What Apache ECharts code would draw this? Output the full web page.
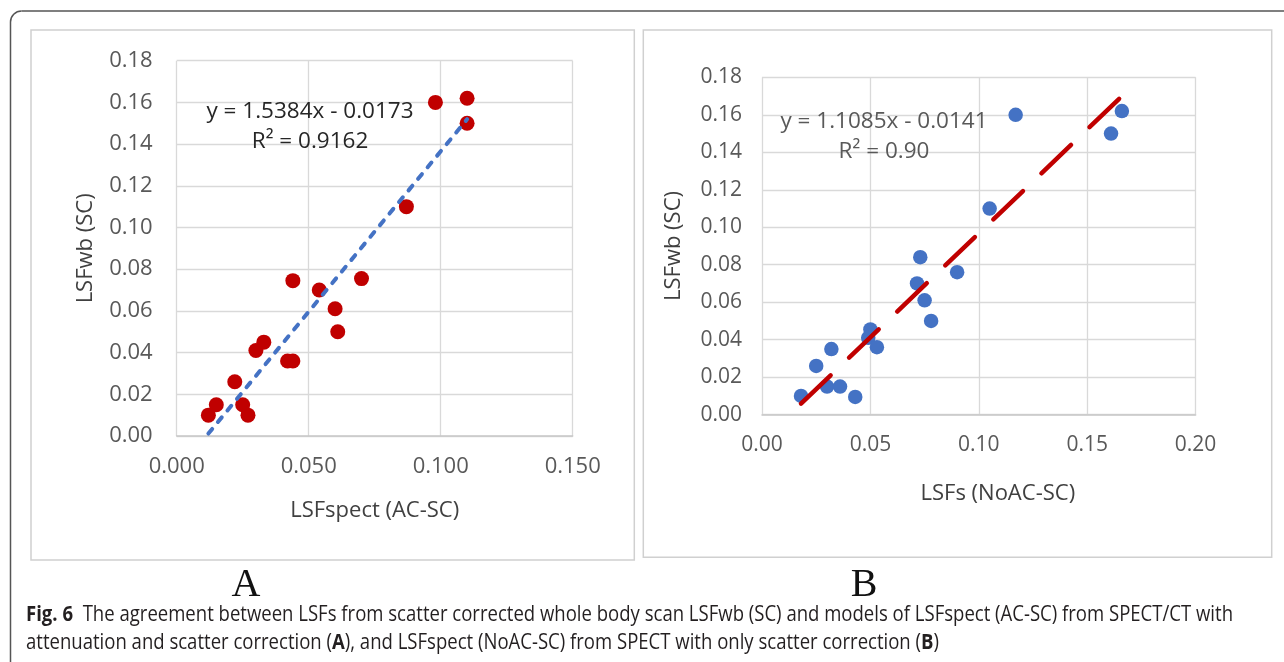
<!DOCTYPE html>
<html>
<head>
<meta charset="utf-8">
<script src="https://cdn.jsdelivr.net/npm/echarts@6/dist/echarts.min.js"></script>
<style>
html,body{margin:0;padding:0;background:#fff;}
#chart{width:1284px;height:662px;}
</style>
</head>
<body>
<div id="chart"></div>
<script>
// Panel A: LSFspect (AC-SC) vs LSFwb (SC)
const aX = [0.098, 0.110, 0.110, 0.087, 0.044, 0.054, 0.070, 0.060, 0.061, 0.033, 0.030, 0.042, 0.044, 0.022, 0.015, 0.012, 0.025, 0.027];
const aY = [0.160, 0.162, 0.150, 0.110, 0.0745, 0.070, 0.0755, 0.061, 0.050, 0.045, 0.041, 0.036, 0.036, 0.026, 0.015, 0.010, 0.015, 0.010];
const aSlope = 1.5384, aIntercept = -0.0173;
const aEquation = ['y = 1.5384x - 0.0173', 'R\u00B2 = 0.9162'];

// Panel B: LSFs (NoAC-SC) vs LSFwb (SC)
const bX = [0.117, 0.166, 0.161, 0.105, 0.073, 0.090, 0.0715, 0.075, 0.078, 0.050, 0.049, 0.053, 0.032, 0.025, 0.030, 0.036, 0.018, 0.043];
const bY = [0.160, 0.162, 0.150, 0.110, 0.084, 0.076, 0.070, 0.061, 0.050, 0.0455, 0.041, 0.036, 0.035, 0.026, 0.015, 0.015, 0.010, 0.0095];
const bSlope = 1.1085, bIntercept = -0.0141;
const bEquation = ['y = 1.1085x - 0.0141', 'R\u00B2 = 0.90'];

// Axis settings / labels
const aXTicks = ['0.000', '0.050', '0.100', '0.150'];
const bXTicks = ['0.00', '0.05', '0.10', '0.15', '0.20'];
const yTicks = ['0.00', '0.02', '0.04', '0.06', '0.08', '0.10', '0.12', '0.14', '0.16', '0.18'];
const aXName = 'LSFspect (AC-SC)';
const bXName = 'LSFs (NoAC-SC)';
const yName = 'LSFwb (SC)';
const panelLabels = ['A', 'B'];
const captionLine1 = [['b', 'Fig. 6'], ['n', '  The agreement between LSFs from scatter corrected whole body scan LSFwb (SC) and models of LSFspect (AC-SC) from SPECT/CT with']];
const captionLine2 = [['n', 'attenuation and scatter correction ('], ['b', 'A'], ['n', '), and LSFspect (NoAC-SC) from SPECT with only scatter correction ('], ['b', 'B'], ['n', ')']];

const FONT = "'Open Sans', 'Noto Sans', sans-serif";
const pairs = (xs, ys) => xs.map((x, i) => [x, ys[i]]);
const trend = (xs, m, c) => {
  const lo = Math.min(...xs), hi = Math.max(...xs);
  return [[lo, m * lo + c], [hi, m * hi + c]];
};

// caption measuring for horizontal fitting
const cv = document.createElement('canvas').getContext('2d');
const CAP_SIZE = 22;
function segWidth(segs) {
  let w = 0;
  segs.forEach(([k, t]) => {
    cv.font = (k === 'b' ? 'bold ' : '') + CAP_SIZE + "px 'Open Sans'";
    w += cv.measureText(t).width;
  });
  return w;
}
function richText(segs) {
  return segs.map(([k, t]) => '{' + k + '|' + t + '}').join('');
}
const capScale = 1207 / segWidth(captionLine1);

const gridLine = { show: true, lineStyle: { color: '#D9D9D9', width: 1.3 } };
function xAxisCfg(gridIndex, max, interval, ticks, name, gap, size, namePad) {
  return {
    type: 'value', gridIndex, min: 0, max, interval,
    name, nameLocation: 'middle', nameGap: gap,
    nameTextStyle: { fontFamily: FONT, fontSize: 22, color: '#404040', padding: namePad },
    axisLine: { show: true, lineStyle: { color: '#C8C8C8', width: 1.5 } },
    axisTick: { show: false },
    axisLabel: { fontFamily: FONT, fontSize: size, color: '#595959', margin: 20,
      formatter: (v) => ticks[Math.round(v / interval)] },
    splitLine: gridLine
  };
}
function yAxisCfg(gridIndex, gap, size, margin) {
  return {
    type: 'value', gridIndex, min: 0, max: 0.18, interval: 0.02,
    name: yName, nameLocation: 'middle', nameGap: gap,
    nameTextStyle: { fontFamily: FONT, fontSize: 22, color: '#404040' },
    axisLine: { show: false },
    axisTick: { show: false },
    axisLabel: { fontFamily: FONT, fontSize: size, color: '#595959', margin,
      formatter: (v) => yTicks[Math.round(v / 0.02)] },
    splitLine: gridLine
  };
}

const capRich = { b: { fontWeight: 'bold', fontSize: CAP_SIZE, fontFamily: 'Open Sans', color: '#231F20' },
                  n: { fontSize: CAP_SIZE, fontFamily: 'Open Sans', color: '#231F20' } };

const chart = echarts.init(document.getElementById('chart'), null, { renderer: 'canvas' });
const option = {
  backgroundColor: '#ffffff',
  animation: false,
  grid: [
    { left: 176.7, top: 60.7, width: 396, height: 375.3 },
    { left: 762, top: 77.3, width: 433.6, height: 337.4 }
  ],
  xAxis: [
    xAxisCfg(0, 0.15, 0.05, aXTicks, aXName, 64, 22, [0, 0, 0, 0]),
    xAxisCfg(1, 0.20, 0.05, bXTicks, bXName, 68, 21, [0, 0, 0, 38])
  ],
  yAxis: [
    yAxisCfg(0, 80, 22, 24),
    yAxisCfg(1, 77, 21, 20)
  ],
  series: [
    { type: 'scatter', xAxisIndex: 0, yAxisIndex: 0, data: pairs(aX, aY), symbolSize: 15,
      itemStyle: { color: '#C00000', opacity: 1 }, z: 2 },
    { type: 'line', xAxisIndex: 0, yAxisIndex: 0, data: trend(aX, aSlope, aIntercept), showSymbol: false, symbol: 'none',
      lineStyle: { color: '#4472C4', width: 4, type: [6, 9], cap: 'round' }, z: 3 },
    { type: 'scatter', xAxisIndex: 1, yAxisIndex: 1, data: pairs(bX, bY), symbolSize: 14.5,
      itemStyle: { color: '#4472C4', opacity: 1 }, z: 2 },
    { type: 'line', xAxisIndex: 1, yAxisIndex: 1, data: trend(bX, bSlope, bIntercept), showSymbol: false, symbol: 'none',
      lineStyle: { color: '#C00000', width: 4.5, type: [41, 25.6], cap: 'round' }, z: 3 }
  ],
  graphic: [
    // outer frame
    { type: 'line', z: 0, shape: { x1: 10.5, y1: 22, x2: 10.5, y2: 662 }, style: { stroke: '#555555', lineWidth: 1.5 } },
    { type: 'line', z: 0, shape: { x1: 21.5, y1: 11, x2: 1284, y2: 11 }, style: { stroke: '#555555', lineWidth: 1.5 } },
    { type: 'arc', z: 0, shape: { cx: 21.5, cy: 22, r: 11, startAngle: Math.PI, endAngle: Math.PI * 1.5, clockwise: true },
      style: { fill: null, stroke: '#555555', lineWidth: 1.5 } },
    // panel boxes
    { type: 'rect', z: 0, shape: { x: 31, y: 30, width: 603.3, height: 530 },
      style: { fill: null, stroke: '#D0D0D0', lineWidth: 1.5 } },
    { type: 'rect', z: 0, shape: { x: 643.3, y: 30, width: 628.4, height: 527.3 },
      style: { fill: null, stroke: '#D0D0D0', lineWidth: 1.5 } },
    // equations
    { type: 'text', z: 10, x: 310, y: 111.7, style: { text: aEquation[0], font: '22.5px ' + FONT, fill: '#262626', align: 'center', verticalAlign: 'middle' } },
    { type: 'text', z: 10, x: 310, y: 141.7, style: { text: aEquation[1], font: '22.5px ' + FONT, fill: '#262626', align: 'center', verticalAlign: 'middle' } },
    { type: 'text', z: 10, x: 884, y: 121.7, style: { text: bEquation[0], font: '22.5px ' + FONT, fill: '#595959', align: 'center', verticalAlign: 'middle' } },
    { type: 'text', z: 10, x: 884, y: 151.7, style: { text: bEquation[1], font: '22.5px ' + FONT, fill: '#595959', align: 'center', verticalAlign: 'middle' } },
    // panel letters
    { type: 'text', z: 10, x: 246, y: 585, style: { text: panelLabels[0], font: "40px 'Liberation Serif', serif", fill: '#111111', align: 'center', verticalAlign: 'middle' } },
    { type: 'text', z: 10, x: 864, y: 585, style: { text: panelLabels[1], font: "40px 'Liberation Serif', serif", fill: '#111111', align: 'center', verticalAlign: 'middle' } },
    // caption
    { type: 'text', z: 10, x: 26, y: 615, scaleX: capScale,
      style: { text: richText(captionLine1), font: CAP_SIZE + "px 'Open Sans'", fill: '#231F20', verticalAlign: 'middle', align: 'left', rich: capRich } },
    { type: 'text', z: 10, x: 26, y: 643, scaleX: capScale,
      style: { text: richText(captionLine2), font: CAP_SIZE + "px 'Open Sans'", fill: '#231F20', verticalAlign: 'middle', align: 'left', rich: capRich } }
  ]
};
chart.setOption(option);
</script>
</body>
</html>
